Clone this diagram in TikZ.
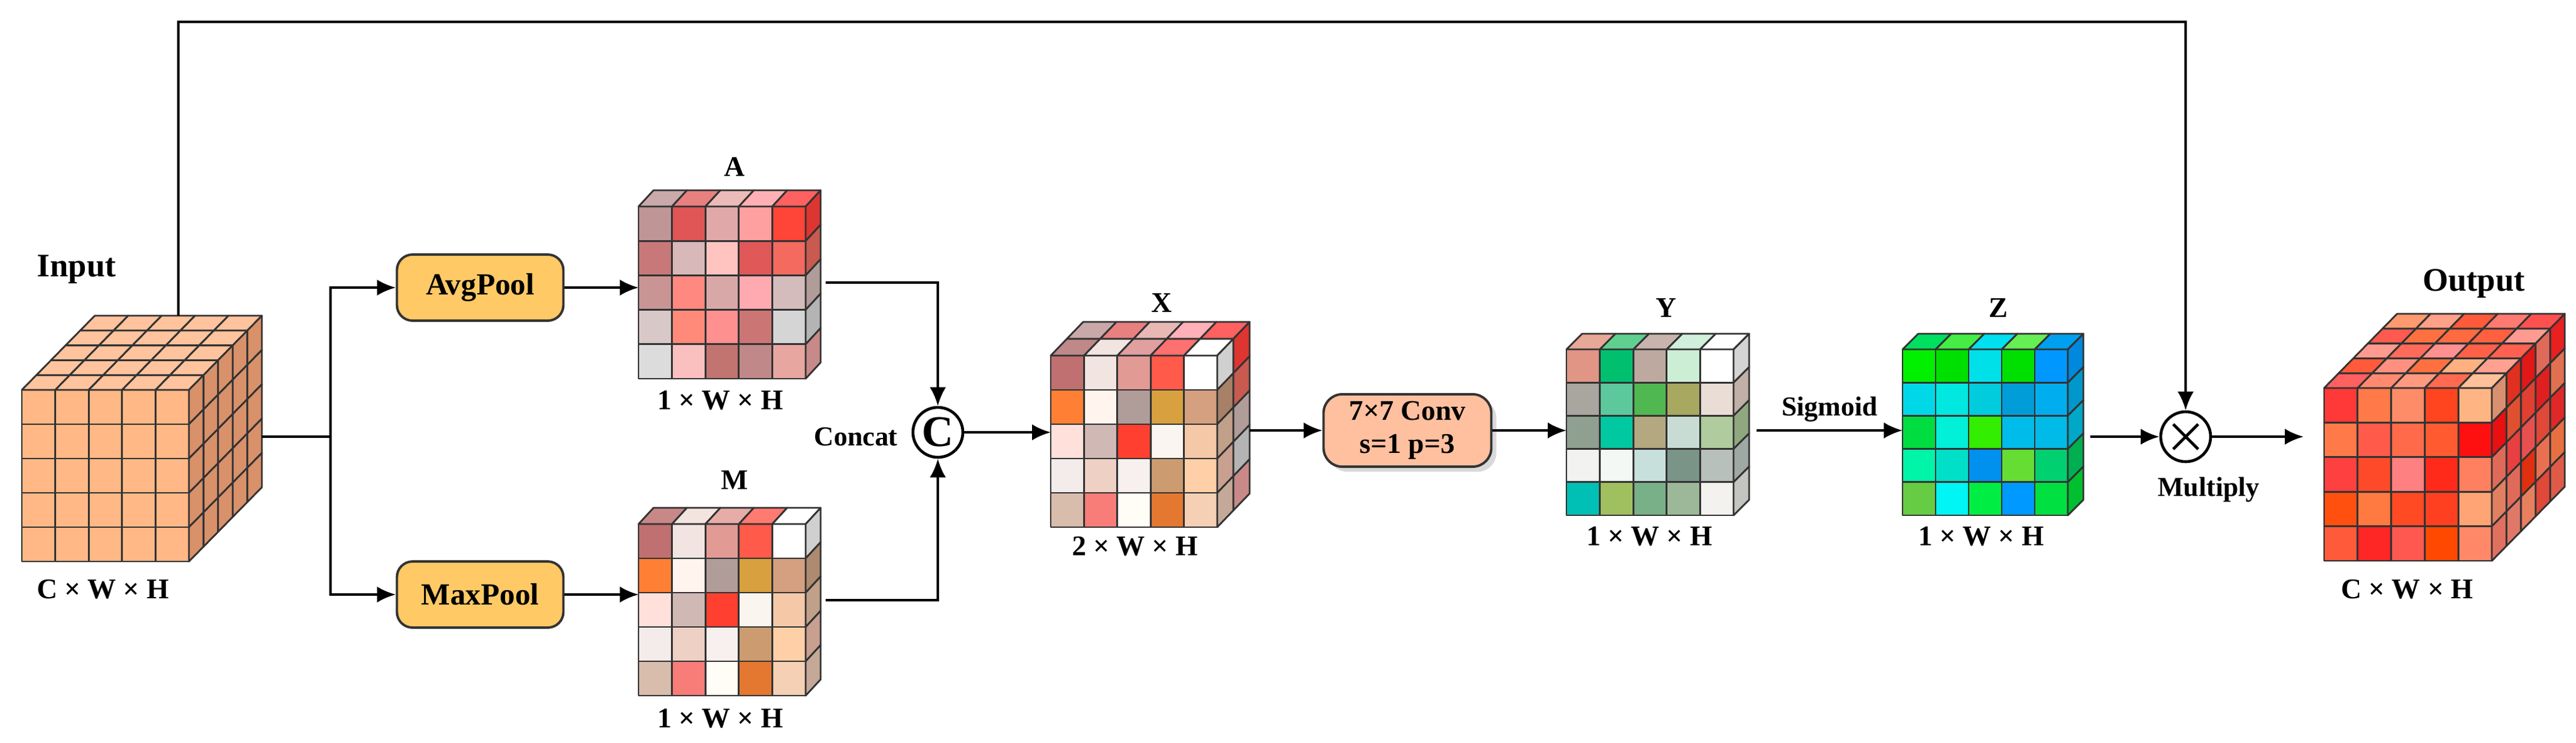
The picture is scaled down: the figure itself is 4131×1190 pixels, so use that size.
\documentclass[tikz,border=0pt]{standalone}
\usepackage{fontspec}
\setmainfont{Liberation Serif}
\usetikzlibrary{arrows.meta,shadows,calc}

\tikzset{
  cell/.style={draw=black!80,line width=0.8pt,line join=round},
  flow/.style={line width=1.1pt,-{Latex[length=3mm,width=2.6mm]}},
  line/.style={line width=1.1pt},
  pool/.style={draw=black!80,line width=1.1pt,rounded corners=2.5mm,fill=poolc,
    minimum width=26.7mm,minimum height=10.6mm,font=\bfseries\fontsize{14}{14}\selectfont},
  op/.style={circle,draw,line width=1.3pt,minimum size=8mm,inner sep=0pt},
  lbl/.style={font=\bfseries\fontsize{13}{13}\selectfont},
  dim/.style={font=\bfseries\fontsize{13}{13}\selectfont},
  small/.style={font=\bfseries\fontsize{12.5}{12.5}\selectfont},
}
\definecolor{poolc}{HTML}{FFC966}
\definecolor{convc}{HTML}{FFC09F}

% front face: x0,y0,w,h,colours (row by row)
\newcommand\cubefront[5]{%
  \edef\lst{#5}%
  \foreach \c [count=\n from 0] in \lst {%
    \pgfmathtruncatemacro\i{mod(\n,5)}\pgfmathtruncatemacro\j{div(\n,5)}%
    \definecolor{cc}{HTML}{\c}%
    \filldraw[cell,fill=cc] ({#1+\i*#3},{#2+\j*#4}) rectangle ++(#3,#4);}}
% top face: x0,y0,w,dx,dy,colours (layer by layer, front first)
\newcommand\cubetop[6]{%
  \edef\lst{#6}%
  \foreach \c [count=\n from 0] in \lst {%
    \pgfmathtruncatemacro\i{mod(\n,5)}\pgfmathtruncatemacro\k{div(\n,5)}%
    \definecolor{cc}{HTML}{\c}%
    \filldraw[cell,fill=cc] ({#1+\i*#3+\k*(#4)},{#2+\k*(#5)}) -- ++(#3,0)
      -- ++(#4,#5) -- ++(-#3,0) -- cycle;}}
% side face: xr,y0,h,dx,dy,colours (layer by layer, front first)
\newcommand\cubeside[6]{%
  \edef\lst{#6}%
  \foreach \c [count=\n from 0] in \lst {%
    \pgfmathtruncatemacro\j{mod(\n,5)}\pgfmathtruncatemacro\k{div(\n,5)}%
    \definecolor{cc}{HTML}{\c}%
    \filldraw[cell,fill=cc] ({#1+\k*(#4)},{#2+\j*#3+\k*(#5)}) -- ++(#4,#5)
      -- ++(0,#3) -- ++(-#4,-#5) -- cycle;}}

\def\inpf{FFB886,FFB886,FFB886,FFB886,FFB886,FFB886,FFB886,FFB886,FFB886,FFB886,FFB886,FFB886,FFB886,FFB886,FFB886,FFB886,FFB886,FFB886,FFB886,FFB886,FFB886,FFB886,FFB886,FFB886,FFB886}
\def\inpt{FFC39D,FFC39D,FFC39D,FFC39D,FFC39D,FFC39D,FFC39D,FFC39D,FFC39D,FFC39D,FFC39D,FFC39D,FFC39D,FFC39D,FFC39D,FFC39D,FFC39D,FFC39D,FFC39D,FFC39D,FFC39D,FFC39D,FFC39D,FFC39D,FFC39D}
\def\inps{D9916A,D9916A,D9916A,D9916A,D9916A,D9916A,D9916A,D9916A,D9916A,D9916A,D9916A,D9916A,D9916A,D9916A,D9916A,D9916A,D9916A,D9916A,D9916A,D9916A,D9916A,D9916A,D9916A,D9916A,D9916A}
\def\mxf{C07070,F2E4E0,E29A95,FF5A4A,FFFFFF,FF8035,FFF5EE,B09C98,D9A040,D4A080,FFE0DA,D0B8B5,FF4030,FAF5EE,F5C8A8,F4ECEA,EED0C4,F8F0EE,CC9C70,FFD0A8,D8BCAC,F87C78,FFFDF5,E47830,F5D0B4}

\begin{document}
\begin{tikzpicture}[x=0.1mm,y=-0.1mm]
  \useasboundingbox (0,0) rectangle (4131,1190);

  % input
  \cubefront{35}{625}{53.6}{55}{\inpf}
  \cubetop{35}{625}{53.6}{23.4}{-23.8}{\inpt}
  \cubeside{303}{625}{55}{23.4}{-23.8}{\inps}
  \node[lbl,font=\bfseries\fontsize{15}{15}\selectfont] (inlbl) at (123,432) {Input};
  \node[dim] (indim) at (165,945) {C × W × H};
  \coordinate (inR) at (420,700);
  \coordinate (inT) at (286,506);
  \coordinate (split) at (530,700);

  % pooling
  \node[pool] (avg) at (770,461) {AvgPool};
  \node[pool] (max) at (770,953) {MaxPool};

  % A
  \cubefront{1024}{331}{53.6}{55.2}{BF9595,E05555,E0A8A8,FFA0A0,FF4438,C87878,D8B8B8,FFC4C0,E05858,F56A5E,C89494,FF8880,D8A8A8,FFAAB0,D4BCBC,D8C8C8,FF8A7A,FF9090,CC7575,D5D5D5,DCDCDC,FAC0C0,C27470,C08888,E8A6A0}
  \cubetop{1024}{331}{53.6}{24}{-26}{C9A9A9,E88080,EABBB8,FFB0B5,FF6060}
  \cubeside{1292}{331}{55.2}{24}{-26}{DD3530,C85A50,B09C98,B4B4B4,C88A88}
  \node[lbl] (Albl) at (1178,267) {A};
  \node[dim] (Adim) at (1155,642) {1 × W × H};
  \coordinate (AR) at (1324,453);
  \coordinate (AL) at (1024,461);

  % M
  \cubefront{1024}{840}{53.6}{55}{\mxf}
  \cubetop{1024}{840}{53.6}{24}{-26}{C88888,F4E4E0,E8ACA8,FF7A70,FFFFFF}
  \cubeside{1292}{840}{55}{24}{-26}{D0D0D0,AD8A70,C0A088,C8A090,C4A898}
  \node[lbl] (Mlbl) at (1178,770) {M};
  \node[dim] (Mdim) at (1155,1152) {1 × W × H};
  \coordinate (MR) at (1324,962);
  \coordinate (ML) at (1024,953);

  % concat
  \node[op,font=\bfseries\fontsize{20}{20}\selectfont] (cat) at (1504,693) {C};
  \node[small,anchor=east] (catlbl) at (1452,700) {Concat};

  % X
  \cubefront{1685}{570}{53.4}{55}{\mxf}
  \cubetop{1685}{570}{53.4}{26}{-27}{C08888,F2E4E0,E0A0A0,FF7070,FFFFFF,C8A8A8,E88080,E8B8B4,FFB0B8,FF6060}
  \cubeside{1952}{570}{55}{26}{-27}{D0D0D0,A88068,C0A088,C8A090,C4A898,DD3530,C85A50,B09C98,B4B4B4,C88A88}
  \node[lbl] (Xlbl) at (1863,486) {X};
  \node[dim] (Xdim) at (1820,876) {2 × W × H};
  \coordinate (XL) at (1685,693);
  \coordinate (XR) at (2004,690);

  % conv
  \node[draw=black!80,line width=1.1pt,rounded corners=3mm,fill=convc,drop shadow={opacity=0.3},
    minimum width=26.9mm,minimum height=11.6mm,align=center,
    font=\bfseries\fontsize{13}{15}\selectfont] (conv) at (2257,690) {7×7 Conv\\s=1 p=3};

  % Y
  \cubefront{2512}{560}{53.6}{53.2}{E09585,00C070,BEA9A0,CCEED5,FFFFFF,A9A6A0,5CC89C,50B850,A8A860,EADDD5,90A090,00C8A0,B3A880,C8DCD4,B0CC9E,F2F2F0,F4F8F4,C8E0DC,7A9488,B8C0BC,00C0B5,A0C060,78B088,9CB898,F4F2EE}
  \cubetop{2512}{560}{53.6}{25}{-25}{E8A898,60D090,C8B4AC,D0F0DC,FFFFFF}
  \cubeside{2780}{560}{53.2}{25}{-25}{D4D4D4,C0B0A8,90A880,A0A8A4,C4C4C0}
  \node[lbl] (Ylbl) at (2672,494) {Y};
  \node[dim] (Ydim) at (2645,860) {1 × W × H};
  \coordinate (YL) at (2512,690);
  \coordinate (YR) at (2817,690);

  % Z
  \cubefront{3051}{560}{53}{53.2}{00F000,00E000,00E0E8,00E000,0098FF,00D8E8,00E8E0,00CCDD,009DD8,00AEEF,00DD40,00F0D8,33EE00,00BCEA,00BBE8,00F5A8,00E0C8,0090EE,66DD33,00D070,66CC44,00F5F5,00EE44,0099FF,00E040}
  \cubetop{3051}{560}{53}{25}{-25}{00E060,44EE44,00E0F0,66EE55,00A0F0}
  \cubeside{3316}{560}{53.2}{25}{-25}{0088DD,0098CC,00A8C8,00B050,00C030}
  \node[lbl] (Zlbl) at (3205,494) {Z};
  \node[dim] (Zdim) at (3177,860) {1 × W × H};
  \coordinate (ZL) at (3051,690);
  \coordinate (ZR) at (3352,700);

  % multiply
  \node[op,minimum size=8mm] (mul) at (3505,700) {};
  \draw[line width=1.3pt] ($(mul.center)+(-20,-20)$) -- ($(mul.center)+(20,20)$)
        ($(mul.center)+(-20,20)$) -- ($(mul.center)+(20,-20)$);
  \node[small] (mullbl) at (3542,785) {Multiply};
  \coordinate (top) at (286,35);

  % output
  \cubefront{3727}{622}{53.8}{55.4}{FF3838,FF7A48,FF8C68,FF4420,FFB484,FF7A48,FF5A4A,FF6A4A,FF5A30,FF1010,FF4040,FF4A2A,FF8080,FF2A1A,FF8060,FF5010,FF7A40,FF4A24,FF4020,FFA474,FF5A3A,FF2626,FF5850,FF4800,FF8868}
  \cubetop{3727}{622}{53.8}{23.4}{-23.8}{FF6060,FF8A70,FF9A80,FF6A50,FFC09A,FF5A3A,FF9080,FF7040,FFB080,FFA090,FF9A90,FF6A5A,FF9090,FF6048,FF6050,FF5A50,FF7040,FF6A40,FF6040,FF9A90,FF9A70,FFA088,FF5A3A,FF7A70,FF5050}
  \cubeside{3996}{622}{55.4}{23.4}{-23.8}{D89070,E81010,E06A5A,E08060,E07060,E03020,E05030,E84040,E06A5A,E07868,E01818,E04030,E85050,E03010,E88060,E06A5A,E02020,E04838,E87050,E04838,E82020,E07050,E02828,E87040,E05A48}
  \node[lbl,font=\bfseries\fontsize{15}{15}\selectfont] (outlbl) at (3967,455) {Output};
  \node[dim] (outdim) at (3860,945) {C × W × H};
  \coordinate (outL) at (3694,700);

  % connectors
  \draw[line] (inR) -- (split);
  \draw[flow] (split) |- (avg.west);
  \draw[flow] (split) |- (max.west);
  \draw[flow] (avg.east) -- (AL);
  \draw[flow] (max.east) -- (ML);
  \draw[flow] (AR) -| (cat.north);
  \draw[flow] (MR) -| (cat.south);
  \draw[flow] (cat.east) -- (XL);
  \draw[flow] (XR) -- (conv.west);
  \draw[flow] (conv.east) -- (YL);
  \draw[flow] (YR) -- node[above,small] (siglbl) {Sigmoid} (ZL);
  \draw[flow] (ZR) -- (mul.west);
  \draw[flow] (mul.east) -- (outL);
  \draw[flow] (inT) -- (top) -| (mul.north);
\end{tikzpicture}
\end{document}
